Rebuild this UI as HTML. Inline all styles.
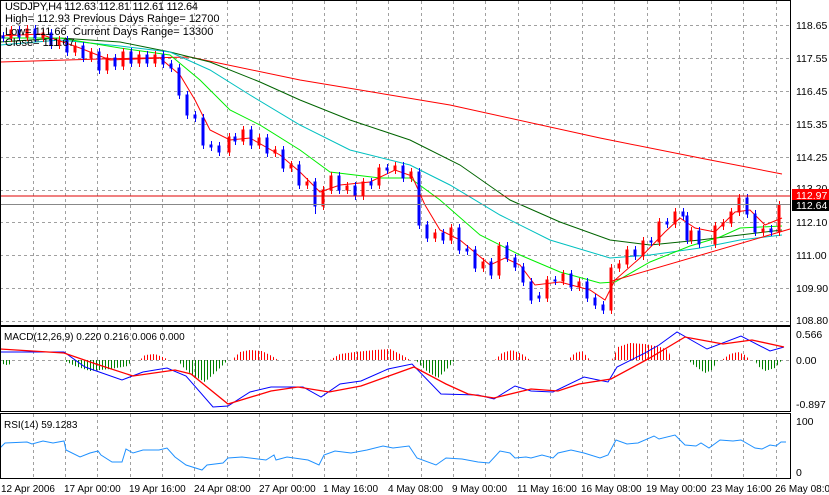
<!DOCTYPE html>
<html><head><meta charset="utf-8"><style>
body{margin:0;background:#fff;}
svg{display:block;font-family:"Liberation Sans",sans-serif;}
</style></head><body>
<svg width="829" height="495" xmlns="http://www.w3.org/2000/svg">
<defs>
<pattern id="pr" width="3" height="10" patternUnits="userSpaceOnUse"><rect x="0" y="0" width="1" height="10" fill="#ff0000"/></pattern>
<pattern id="pg" width="3" height="10" patternUnits="userSpaceOnUse"><rect x="0" y="0" width="1" height="10" fill="#008000"/></pattern>
</defs>
<rect width="829" height="495" fill="#fff"/>
<g stroke="#a0a0a0" stroke-dasharray="3,3" stroke-width="1">
<path d="M33.5 1V325M65.5 1V325M97.5 1V325M130.5 1V325M162.5 1V325M194.5 1V325M227.5 1V325M259.5 1V325M292.5 1V325M324.5 1V325M356.5 1V325M388.5 1V325M421.5 1V325M453.5 1V325M485.5 1V325M518.5 1V325M550.5 1V325M582.5 1V325M614.5 1V325M647.5 1V325M679.5 1V325M711.5 1V325M743.5 1V325M776.5 1V325"/>
<path d="M33.5 327V411M65.5 327V411M97.5 327V411M130.5 327V411M162.5 327V411M194.5 327V411M227.5 327V411M259.5 327V411M292.5 327V411M324.5 327V411M356.5 327V411M388.5 327V411M421.5 327V411M453.5 327V411M485.5 327V411M518.5 327V411M550.5 327V411M582.5 327V411M614.5 327V411M647.5 327V411M679.5 327V411M711.5 327V411M743.5 327V411M776.5 327V411"/>
<path d="M33.5 414V478M65.5 414V478M97.5 414V478M130.5 414V478M162.5 414V478M194.5 414V478M227.5 414V478M259.5 414V478M292.5 414V478M324.5 414V478M356.5 414V478M388.5 414V478M421.5 414V478M453.5 414V478M485.5 414V478M518.5 414V478M550.5 414V478M582.5 414V478M614.5 414V478M647.5 414V478M679.5 414V478M711.5 414V478M743.5 414V478M776.5 414V478"/>
<path d="M0 25.5H790M0 58.5H790M0 91.5H790M0 124.5H790M0 157.5H790M0 190.5H790M0 222.5H790M0 255.5H790M0 288.5H790M0 321.5H790M0 360.5H790"/>
</g>
<path d="M0 62L100 59L190 57L300 80L450 105L600 138L700 158L782 174" fill="none" stroke="#ff0000"/>
<path d="M0 42L60 38L120 42L170 52L210 62L260 82L300 100L350 120L410 140L460 165L510 200L560 222L610 240L650 245L700 240L740 235L782 230" fill="none" stroke="#006400"/>
<path d="M0 45L60 40L120 46L170 52L210 70L250 95L300 125L350 150L410 165L450 185L500 215L550 240L610 258L650 255L700 248L740 240L782 235" fill="none" stroke="#00c0c0"/>
<path d="M0 38L60 38L120 48L170 55L200 80L230 110L260 125L300 150L330 172L380 178L410 178L440 200L480 235L520 255L560 272L600 283L615 282L650 262L690 246L720 237L740 228L782 226" fill="none" stroke="#00ee00"/>
<path d="M0 36L40 34L80 48L110 60L160 58L180 75L195 100L210 130L230 140L250 138L280 155L300 172L320 192L340 185L370 182L395 170L412 176L425 205L440 230L460 240L490 265L505 258L520 265L535 285L560 282L590 290L605 300L615 280L640 258L665 232L680 218L695 228L715 232L735 212L750 210L765 225L782 218" fill="none" stroke="#ff0000"/>
<line x1="612" y1="281" x2="790" y2="229" stroke="#ff0000"/>
<path fill="#ff0000" stroke="#ff0000" stroke-width="1" d="
M11.5 26V42M10 30h2V38h-2z
M27.5 25V41M26 29h2V37h-2z
M43.5 29V42M42 33h2V38h-2z
M59.5 36V49M58 40h2V45h-2z
M75.5 42V56M74 46h2V52h-2z
M91.5 48V62M90 52h2V58h-2z
M107.5 54V74M106 58h2V70h-2z
M123.5 48V70M122 52h2V66h-2z
M139.5 51V67M138 55h2V63h-2z
M155.5 51V67M154 55h2V63h-2z
M229.5 133V156M228 137h2V152h-2z
M243.5 126V145M242 130h2V141h-2z
M259.5 134V149M258 138h2V145h-2z
M275.5 146V157M274 150h2V153h-2z
M291.5 161V172M290 165h2V168h-2z
M307.5 178V189M306 182h2V185h-2z
M323.5 186V210M322 190h2V206h-2z
M331.5 172V194M330 176h2V190h-2z
M347.5 182V194M346 186h2V190h-2z
M363.5 178V200M362 182h2V196h-2z
M379.5 164V189M378 168h2V185h-2z
M395.5 162V174M394 166h2V170h-2z
M411.5 168V182M410 172h2V178h-2z
M435.5 229V242M434 233h2V238h-2z
M451.5 224V244M450 228h2V240h-2z
M483.5 258V272M482 262h2V268h-2z
M499.5 242V279M498 246h2V275h-2z
M547.5 276V302M546 280h2V298h-2z
M563.5 270V285M562 274h2V281h-2z
M579.5 278V291M578 282h2V287h-2z
M611.5 264V314M610 268h2V310h-2z
M619.5 260V272M618 264h2V268h-2z
M627.5 246V268M626 250h2V264h-2z
M643.5 237V260M642 241h2V256h-2z
M659.5 218V246M658 222h2V242h-2z
M675.5 208V228M674 212h2V224h-2z
M691.5 227V244M690 231h2V240h-2z
M715.5 222V248M714 226h2V244h-2z
M723.5 219V230M722 223h2V226h-2z
M731.5 208V227M730 212h2V223h-2z
M739.5 194V216M738 198h2V212h-2z
M763.5 225V236M762 229h2V232h-2z
M779.5 201V236M778 205h2V232h-2z"/>
<path fill="#0000ff" stroke="#0000ff" stroke-width="1" d="
M3.5 32V42M2 36h2V38h-2z
M19.5 26V41M18 30h2V37h-2z
M35.5 25V42M34 29h2V38h-2z
M51.5 29V49M50 33h2V45h-2z
M67.5 36V56M66 40h2V52h-2z
M83.5 42V62M82 46h2V58h-2z
M99.5 48V74M98 52h2V70h-2z
M115.5 54V70M114 58h2V66h-2z
M131.5 48V67M130 52h2V63h-2z
M147.5 51V67M146 55h2V63h-2z
M163.5 51V68M162 55h2V64h-2z
M171.5 60V72M170 64h2V68h-2z
M179.5 64V99M178 68h2V95h-2z
M187.5 91V119M186 95h2V115h-2z
M195.5 111V122M194 115h2V118h-2z
M203.5 114V149M202 118h2V145h-2z
M211.5 141V151M210 145h2V147h-2z
M219.5 142V156M218 146h2V152h-2z
M235.5 133V145M234 137h2V141h-2z
M251.5 126V149M250 130h2V145h-2z
M267.5 134V157M266 138h2V153h-2z
M283.5 146V172M282 150h2V168h-2z
M299.5 161V189M298 165h2V185h-2z
M315.5 178V214M314 182h2V206h-2z
M339.5 172V194M338 176h2V190h-2z
M355.5 182V200M354 186h2V196h-2z
M371.5 178V189M370 182h2V185h-2z
M387.5 164V174M386 168h2V170h-2z
M403.5 162V182M402 166h2V178h-2z
M419.5 168V229M418 172h2V225h-2z
M427.5 221V242M426 225h2V238h-2z
M443.5 229V244M442 233h2V240h-2z
M459.5 224V254M458 228h2V250h-2z
M467.5 245V255M466 249h2V251h-2z
M475.5 246V272M474 250h2V268h-2z
M491.5 258V279M490 262h2V275h-2z
M507.5 242V262M506 246h2V258h-2z
M515.5 254V271M514 258h2V267h-2z
M523.5 263V286M522 267h2V282h-2z
M531.5 278V304M530 282h2V300h-2z
M539.5 292V302M538 296h2V298h-2z
M555.5 276V285M554 280h2V281h-2z
M571.5 270V291M570 274h2V287h-2z
M587.5 278V302M586 282h2V298h-2z
M595.5 294V309M594 298h2V305h-2z
M603.5 301V314M602 305h2V310h-2z
M635.5 246V260M634 250h2V256h-2z
M651.5 237V246M650 241h2V242h-2z
M667.5 218V228M666 222h2V224h-2z
M683.5 208V220M682 212h2V216h-2z
M687.5 212V244M686 216h2V240h-2z
M699.5 227V248M698 231h2V244h-2z
M747.5 194V218M746 198h2V214h-2z
M755.5 210V236M754 214h2V232h-2z
M771.5 225V236M770 229h2V232h-2z"/>
<line x1="0" y1="196" x2="791" y2="196" stroke="#e00000"/>
<line x1="0" y1="204.5" x2="791" y2="204.5" stroke="#888"/>
<path fill="url(#pg)" d="M0 360H12V364L6 365L0 363Z"/>
<path fill="url(#pg)" d="M63 360H132L128 366L110 369L90 371L75 366Z"/>
<path fill="url(#pr)" d="M140 360L145 355L155 354L165 358L168 360Z"/>
<path fill="url(#pg)" d="M178 360H228L220 368L205 382L192 375L182 366Z"/>
<path fill="url(#pr)" d="M232 360L240 352L250 350L262 351L272 356L278 360Z"/>
<path fill="url(#pr)" d="M330 360L340 354L355 352L375 350L390 349L402 355L410 360Z"/>
<path fill="url(#pg)" d="M416 360H455L448 368L438 378L428 372L420 365Z"/>
<path fill="url(#pr)" d="M495 360L502 353L512 350L522 354L530 360Z"/>
<path fill="url(#pr)" d="M568 360L575 353L582 351L590 360Z"/>
<path fill="url(#pr)" d="M612 360L618 347L630 343L645 344L660 347L668 350L672 360Z"/>
<path fill="url(#pg)" d="M688 360H718L712 370L705 373L695 366Z"/>
<path fill="url(#pr)" d="M722 360L730 354L738 352L745 355L750 360Z"/>
<path fill="url(#pg)" d="M755 360H782L775 368L765 371L758 366Z"/>
<path fill="none" stroke="#0000ff" d="M0 352L64 352L85 367L122 380L143 372L167 368L186 376L213 407L228 406L250 392L271 387L303 387L321 397L340 384L361 381L388 369L412 364L441 394L478 395L494 399L515 386L531 391L553 392L584 377L608 382L617 367L643 354L659 345L677 332L707 349L741 336L770 351L784 347"/>
<path fill="none" stroke="#ff0000" stroke-width="1.3" d="M0 349L64 353L96 364L133 376L175 370L191 374L228 404L271 391L298 387L329 392L361 386L414 367L446 384L468 394L494 398L531 389L558 391L579 384L611 379L648 359L685 337L723 344L752 340L784 347"/>
<path fill="none" stroke="#1e90ff" d="M0 448L5 443L27 442L32 444L43 441L53 443L64 441L66 450L80 457L90 453L98 451L101 455L112 462L122 462L126 449L133 453L143 450L159 450L167 448L175 457L186 465L202 470L207 465L223 463L228 458L242 457L250 458L266 460L274 455L276 460L287 457L308 460L319 465L324 455L335 451L351 453L367 450L383 446L393 448L409 446L417 458L436 465L446 458L462 459L478 462L489 463L500 451L510 453L515 458L526 457L531 458L542 455L553 458L558 453L571 450L584 453L600 458L608 455L616 440L627 444L638 443L654 436L659 439L675 435L685 445L696 446L701 443L709 448L720 440L733 441L741 440L755 448L762 449L770 445L776 446L781 442L786 442"/>
<g stroke="#000" stroke-width="1" fill="none">
<rect x="0.5" y="0.5" width="790" height="325"/>
<rect x="0.5" y="326.5" width="790" height="85"/>
<rect x="0.5" y="413.5" width="790" height="65"/>
</g>
<g font-size="10.5" fill="#000">
<text x="796" y="29">118.65</text>
<text x="796" y="62">117.55</text>
<text x="796" y="95">116.45</text>
<text x="796" y="128">115.35</text>
<text x="796" y="161">114.25</text>
<text x="796" y="192">113.20</text>
<text x="796" y="226">112.10</text>
<text x="796" y="259">111.00</text>
<text x="796" y="292">109.90</text>
<text x="796" y="324">108.80</text>
<rect x="792" y="189" width="37" height="12" fill="#ff0000"/>
<text x="796" y="199" fill="#fff">112.97</text>
<rect x="792" y="200" width="37" height="11" fill="#000"/>
<text x="796" y="209" fill="#fff">112.64</text>
<text x="796" y="338">0.566</text>
<text x="796" y="364">0.00</text>
<text x="796" y="408">-0.897</text>
<text x="796" y="425">100</text>
<text x="796" y="476">0</text>
</g>
<g font-size="11" fill="#000">
<text x="5" y="10" textLength="193" lengthAdjust="spacing">USDJPY,H4  112.63 112.81 112.61 112.64</text>
<text x="5" y="22">High= 112.93</text>
<text x="73" y="22">Previous Days Range= 12700</text>
<text x="5" y="35">Low= 111.66</text>
<text x="73" y="35">Current Days Range= 13300</text>
<text x="5" y="46">Close= 111.67</text>
<text x="4" y="340" font-size="10">MACD(12,26,9) 0.220 0.216 0.006 0.000</text>
<text x="4" y="428" font-size="10">RSI(14) 59.1283</text>
</g>
<g font-size="10" fill="#000">
<text x="1" y="492">12 Apr 2006</text>
<text x="64" y="492">17 Apr 00:00</text>
<text x="129" y="492">19 Apr 16:00</text>
<text x="194" y="492">24 Apr 08:00</text>
<text x="259" y="492">27 Apr 00:00</text>
<text x="323" y="492">1 May 16:00</text>
<text x="388" y="492">4 May 08:00</text>
<text x="452" y="492">9 May 00:00</text>
<text x="517" y="492">11 May 16:00</text>
<text x="581" y="492">16 May 08:00</text>
<text x="646" y="492">19 May 00:00</text>
<text x="711" y="492">23 May 16:00</text>
<text x="775" y="492">26 May 08:00</text>
</g>
</svg>
</body></html>
